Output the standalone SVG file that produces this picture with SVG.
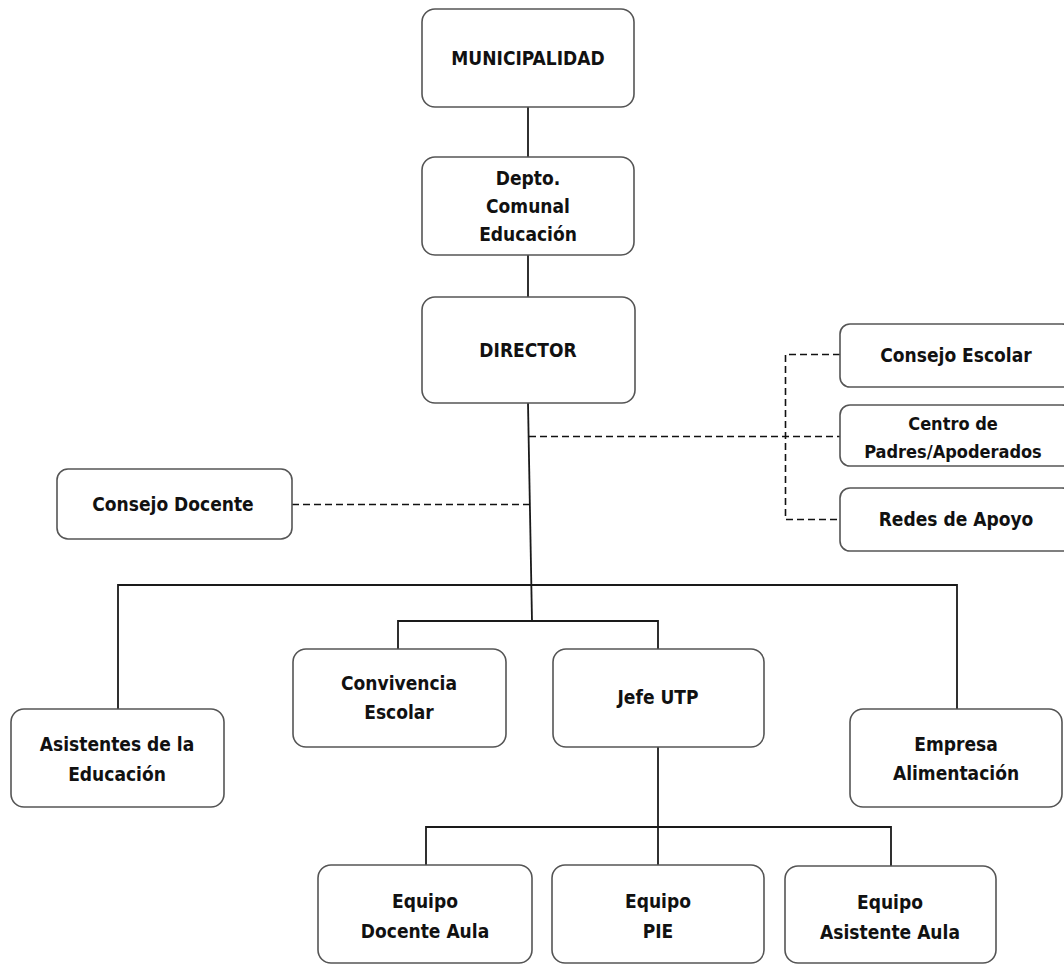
<svg xmlns="http://www.w3.org/2000/svg" width="1064" height="964" viewBox="0 0 1064 964">
<style>
  .box { fill: #ffffff; stroke: #555555; stroke-width: 1.6; }
  .t { font-family: "DejaVu Sans Condensed", "DejaVu Sans", sans-serif; font-stretch: condensed; font-weight: bold; font-size: 19px; fill: #111111; text-anchor: middle; }
  .sm { font-size: 18px; }
  .line { stroke: #1a1a1a; stroke-width: 1.8; fill: none; }
  .dash { stroke: #111111; stroke-width: 1.6; fill: none; stroke-dasharray: 7 4; }
</style>
<rect x="0" y="0" width="1064" height="964" fill="#ffffff"/>
<g id="connectors">
  <line class="line" x1="528" y1="107" x2="528" y2="157"/>
  <line class="line" x1="528" y1="255" x2="528" y2="297"/>
  <line class="line" x1="528" y1="403" x2="532" y2="621"/>
  <polyline class="line" points="118,709 118,585 957,585 957,709"/>
  <polyline class="line" points="398,649 398,621 658,621 658,649"/>
  <line class="line" x1="658" y1="747" x2="658" y2="865"/>
  <polyline class="line" points="426,865 426,827 891,827 891,866"/>
  <line class="dash" x1="529" y1="436.5" x2="840" y2="436.5"/>
  <polyline class="dash" points="840,354.5 785.5,354.5 785.5,519.5 840,519.5"/>
  <line class="dash" x1="292" y1="504.5" x2="530" y2="504.5"/>
</g>
<g id="municipalidad">
  <rect class="box" x="422" y="9" width="212" height="98" rx="13"/>
  <text class="t" x="528" y="65">MUNICIPALIDAD</text>
</g>
<g id="depto">
  <rect class="box" x="422" y="157" width="212" height="98" rx="13"/>
  <text class="t" x="528" y="185">Depto.</text>
  <text class="t" x="528" y="213">Comunal</text>
  <text class="t" x="528" y="241">Educación</text>
</g>
<g id="director">
  <rect class="box" x="422" y="297" width="213" height="106" rx="13"/>
  <text class="t" x="528" y="357">DIRECTOR</text>
</g>
<g id="consejo-escolar">
  <rect class="box" x="840" y="324" width="232" height="63" rx="10"/>
  <text class="t" x="956" y="362">Consejo Escolar</text>
</g>
<g id="centro-padres">
  <rect class="box" x="840" y="405" width="232" height="61" rx="10"/>
  <text class="t sm" x="953" y="430">Centro de</text>
  <text class="t sm" x="953" y="458">Padres/Apoderados</text>
</g>
<g id="redes-apoyo">
  <rect class="box" x="840" y="488" width="232" height="63" rx="10"/>
  <text class="t" x="956" y="526">Redes de Apoyo</text>
</g>
<g id="consejo-docente">
  <rect class="box" x="57" y="469" width="235" height="70" rx="11"/>
  <text class="t" x="173" y="511">Consejo Docente</text>
</g>
<g id="asistentes">
  <rect class="box" x="11" y="709" width="213" height="98" rx="13"/>
  <text class="t" x="117" y="751">Asistentes de la</text>
  <text class="t" x="117" y="781">Educación</text>
</g>
<g id="convivencia">
  <rect class="box" x="293" y="649" width="213" height="98" rx="13"/>
  <text class="t" x="399" y="690">Convivencia</text>
  <text class="t" x="399" y="719">Escolar</text>
</g>
<g id="jefe-utp">
  <rect class="box" x="553" y="649" width="211" height="98" rx="13"/>
  <text class="t" x="658" y="704">Jefe UTP</text>
</g>
<g id="empresa">
  <rect class="box" x="850" y="709" width="212" height="98" rx="13"/>
  <text class="t" x="956" y="751">Empresa</text>
  <text class="t" x="956" y="780">Alimentación</text>
</g>
<g id="equipo-docente">
  <rect class="box" x="318" y="865" width="214" height="98" rx="13"/>
  <text class="t" x="425" y="908">Equipo</text>
  <text class="t" x="425" y="938">Docente Aula</text>
</g>
<g id="equipo-pie">
  <rect class="box" x="552" y="865" width="212" height="98" rx="13"/>
  <text class="t" x="658" y="908">Equipo</text>
  <text class="t" x="658" y="938">PIE</text>
</g>
<g id="equipo-asistente">
  <rect class="box" x="785" y="866" width="211" height="97" rx="13"/>
  <text class="t" x="890" y="909">Equipo</text>
  <text class="t" x="890" y="939">Asistente Aula</text>
</g>
</svg>
